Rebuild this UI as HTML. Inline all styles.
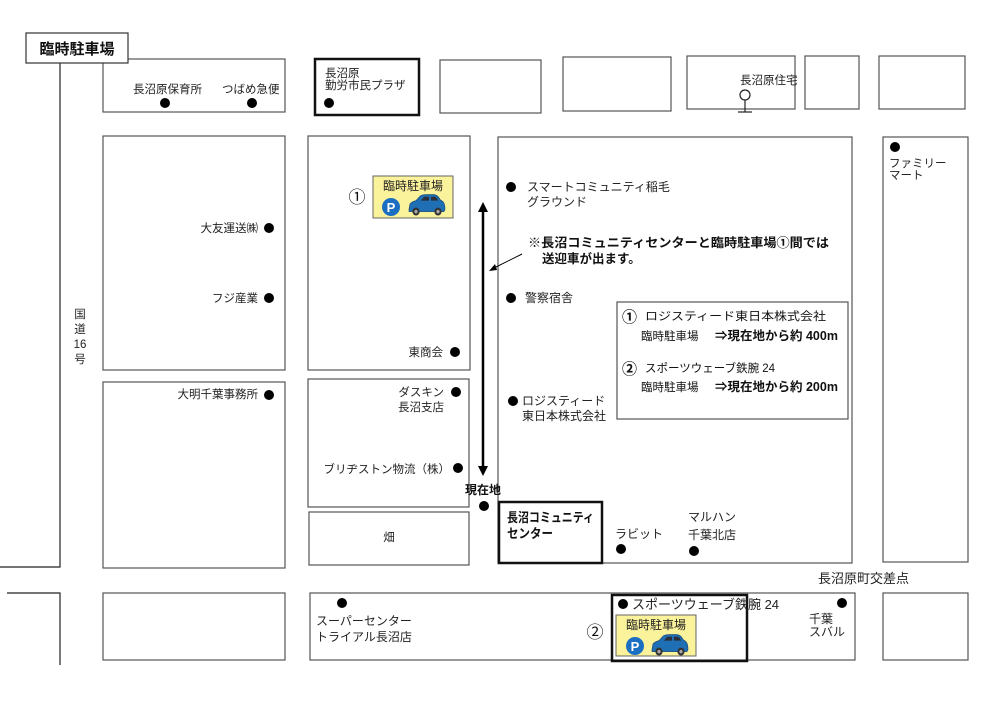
<!DOCTYPE html>
<html><head><meta charset="utf-8"><style>
html,body{margin:0;padding:0;background:#fff;}
svg{display:block;font-family:"Liberation Sans","Noto Sans CJK JP",sans-serif;}
</style></head><body>
<svg width="1000" height="706" viewBox="0 0 1000 706" xmlns="http://www.w3.org/2000/svg">
<defs>
<g id="car">
  <path d="M2,14 L3,9 Q5,7 9,6 L13,2 Q15,0.5 20,0.5 L27,0.5 Q31,1 33,5 L36,7 Q38,9 38,14 L37,16 L2,16 Z" fill="#1f6fb5" stroke="#0f3f6e" stroke-width="0.6"/>
  <path d="M14,6 L17,2.5 L22,2.5 L22,6 Z M24,6 L24,2.5 L28,2.5 Q30,3 31,6 Z" fill="#2a2f3a"/>
  <circle cx="9" cy="16" r="3.6" fill="#333"/><circle cx="9" cy="16" r="1.6" fill="#aaa"/>
  <circle cx="31" cy="16" r="3.6" fill="#333"/><circle cx="31" cy="16" r="1.6" fill="#aaa"/>
</g>
</defs>
<g fill="#fff" stroke="#555" stroke-width="1.2">
  <rect x="103" y="59" width="182" height="53"/>
  <rect x="440" y="60" width="101" height="53"/>
  <rect x="563" y="57" width="108" height="54"/>
  <rect x="687" y="56" width="108" height="53"/>
  <rect x="805" y="56" width="54" height="53"/>
  <rect x="879" y="56" width="86" height="53"/>
  <rect x="103" y="136" width="182" height="234"/>
  <rect x="308" y="136" width="162" height="234"/>
  <rect x="498" y="137" width="354" height="426"/>
  <rect x="883" y="137" width="85" height="425"/>
  <rect x="103" y="382" width="182" height="186"/>
  <rect x="308" y="379" width="161" height="128"/>
  <rect x="309" y="512" width="160" height="53"/>
  <rect x="103" y="593" width="182" height="67"/>
  <rect x="310" y="593" width="545" height="67"/>
  <rect x="883" y="593" width="85" height="67"/>
  <rect x="617" y="302" width="231" height="117"/>
</g>
<g fill="none" stroke="#111" stroke-width="2.5">
  <rect x="315" y="59" width="104" height="56" fill="#fff"/>
  <rect x="499" y="502" width="103" height="61" fill="#fff"/>
  <rect x="612" y="595" width="135" height="66"/>
</g>
<!-- roads -->
<g stroke="#222" stroke-width="1.2" fill="none">
  <path d="M60,63 L60,567 L0,567"/>
  <path d="M7,593 L60,593 L60,665"/>
</g>
<!-- title -->
<rect x="26" y="33" width="102" height="30" fill="#fff" stroke="#333" stroke-width="1.2"/>
<text x="77" y="54" font-size="15" font-weight="bold" text-anchor="middle" fill="#111">臨時駐車場</text>
<!-- arrows -->
<line x1="483" y1="210" x2="483" y2="467" stroke="#000" stroke-width="2.5"/>
<path d="M478,212 L483,202 L488,212 Z" fill="#000"/>
<path d="M478,466 L483,476 L488,466 Z" fill="#000"/>
<line x1="522" y1="254" x2="494" y2="268" stroke="#000" stroke-width="1"/>
<path d="M489,271 L495,264 L497,270 Z" fill="#000"/>
<!-- dots -->
<g fill="#000">
  <circle cx="165" cy="103" r="5"/><circle cx="252" cy="103" r="5"/>
  <circle cx="329" cy="103" r="5"/>
  <circle cx="895" cy="147" r="5"/>
  <circle cx="269" cy="228" r="5"/><circle cx="269" cy="298" r="5"/><circle cx="269" cy="395" r="5"/>
  <circle cx="455" cy="352" r="5"/><circle cx="456" cy="392" r="5"/><circle cx="458" cy="468" r="5"/>
  <circle cx="484" cy="506" r="5"/>
  <circle cx="511" cy="187" r="5"/><circle cx="511" cy="298" r="5"/><circle cx="513" cy="401" r="5"/>
  <circle cx="621" cy="549" r="5"/><circle cx="694" cy="551" r="5"/>
  <circle cx="342" cy="603" r="5"/><circle cx="623" cy="604" r="5"/><circle cx="842" cy="603" r="5"/>
</g>
<!-- 住宅 icon -->
<circle cx="745" cy="95" r="5" fill="#fff" stroke="#222" stroke-width="1.2"/>
<line x1="745" y1="100" x2="745" y2="112" stroke="#222" stroke-width="1.2"/>
<line x1="738" y1="112" x2="752" y2="112" stroke="#222" stroke-width="1.2"/>
<!-- texts -->
<g font-size="11.5" fill="#222">
  <text x="133" y="93">長沼原保育所</text>
  <text x="222" y="93">つばめ急便</text>
  <text x="325" y="77">長沼原</text>
  <text x="325" y="89">勤労市民プラザ</text>
  <text x="740" y="84">長沼原住宅</text>
  <text x="889" y="167">ファミリー</text>
  <text x="889" y="179">マート</text>
  <text x="258" y="232" text-anchor="end">大友運送㈱</text>
  <text x="258" y="302" text-anchor="end">フジ産業</text>
  <text x="258" y="398" text-anchor="end">大明千葉事務所</text>
  <text x="80" y="318" text-anchor="middle">国</text>
  <text x="80" y="333" text-anchor="middle">道</text>
  <text x="80" y="348" text-anchor="middle">16</text>
  <text x="80" y="363" text-anchor="middle">号</text>
  <text x="443" y="356" text-anchor="end">東商会</text>
  <text x="444" y="396" text-anchor="end">ダスキン</text>
  <text x="444" y="411" text-anchor="end">長沼支店</text>
  <text x="450" y="473" text-anchor="end">ブリヂストン物流（株）</text>
  <text x="389" y="541" text-anchor="middle">畑</text>
  <text x="527" y="191" font-size="12">スマートコミュニティ稲毛</text>
  <text x="527" y="206" font-size="12">グラウンド</text>
  <text x="525" y="302" font-size="12">警察宿舎</text>
  <text x="522" y="405" font-size="12">ロジスティード</text>
  <text x="522" y="420" font-size="12">東日本株式会社</text>
  <text x="615" y="538" font-size="12">ラビット</text>
  <text x="688" y="521" font-size="12">マルハン</text>
  <text x="688" y="539" font-size="12">千葉北店</text>
  <text x="818" y="583" font-size="13">長沼原町交差点</text>
  <text x="316" y="625" font-size="12">スーパーセンター</text>
  <text x="316" y="641" font-size="12">トライアル長沼店</text>
  <text x="632" y="609" font-size="13">スポーツウェーブ鉄腕 24</text>
  <text x="809" y="623" font-size="12">千葉</text>
  <text x="809" y="636" font-size="12">スバル</text>
</g>
<text x="465" y="494" font-size="12" font-weight="bold" fill="#111">現在地</text>
<text x="507" y="522" font-size="13" font-weight="bold" fill="#111" textLength="87" lengthAdjust="spacingAndGlyphs">長沼コミュニティ</text>
<text x="507" y="538" font-size="13" font-weight="bold" fill="#111" textLength="46" lengthAdjust="spacingAndGlyphs">センター</text>
<text x="528" y="247" font-size="12.5" font-weight="bold" fill="#111" textLength="301" lengthAdjust="spacingAndGlyphs">※長沼コミュニティセンターと臨時駐車場①間では</text>
<text x="542" y="263" font-size="12.5" font-weight="bold" fill="#111">送迎車が出ます。</text>
<!-- info box text -->
<g fill="#111">
  <text x="622" y="322" font-size="15" font-weight="bold">①</text>
  <text x="645" y="320" font-size="11.5" textLength="181" lengthAdjust="spacingAndGlyphs">ロジスティード東日本株式会社</text>
  <text x="641" y="340" font-size="11.5">臨時駐車場</text>
  <text x="715" y="340" font-size="12.5" font-weight="bold">⇒現在地から約 400m</text>
  <text x="622" y="374" font-size="15" font-weight="bold">②</text>
  <text x="645" y="372" font-size="11.5">スポーツウェーブ鉄腕 24</text>
  <text x="641" y="391" font-size="11.5">臨時駐車場</text>
  <text x="715" y="391" font-size="12.5" font-weight="bold">⇒現在地から約 200m</text>
</g>
<!-- parking sign 1 -->
<text x="357" y="203" font-size="17" text-anchor="middle" fill="#111">①</text>
<rect x="373" y="176" width="80" height="42" fill="#fbf29c" stroke="#666" stroke-width="1"/>
<text x="413" y="190" font-size="12" text-anchor="middle" fill="#222">臨時駐車場</text>
<circle cx="391" cy="207" r="9" fill="#1b6fc2"/>
<text x="391" y="212" font-size="13" font-weight="bold" text-anchor="middle" fill="#fff">P</text>
<use href="#car" transform="translate(407,194) scale(1.0,1.1)"/>
<!-- parking sign 2 -->
<text x="595" y="638" font-size="17" text-anchor="middle" fill="#111">②</text>
<rect x="616" y="615" width="80" height="41" fill="#fbf29c" stroke="#666" stroke-width="1"/>
<text x="656" y="629" font-size="12" text-anchor="middle" fill="#222">臨時駐車場</text>
<circle cx="635" cy="646" r="9" fill="#1b6fc2"/>
<text x="635" y="651" font-size="13" font-weight="bold" text-anchor="middle" fill="#fff">P</text>
<use href="#car" transform="translate(650,634) scale(1.0,1.1)"/>
</svg>
</body></html>
